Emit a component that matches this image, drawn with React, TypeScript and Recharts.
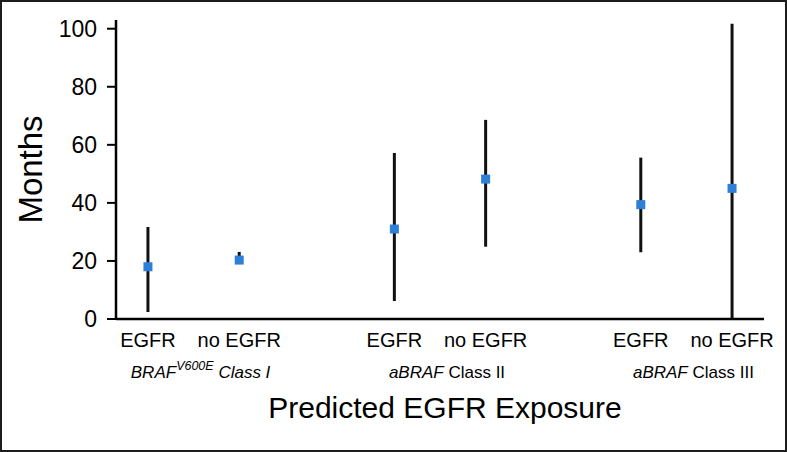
import {
  ScatterChart,
  Scatter,
  XAxis,
  YAxis,
  ZAxis,
  ErrorBar,
  Label
} from "recharts";

// x positions of the six estimates (pairs with a wider gap between groups)
const positions = [0, 1, 2.7, 3.7, 5.4, 6.4];
const exposure = ["EGFR", "no EGFR", "EGFR", "no EGFR", "EGFR", "no EGFR"];
const median = [18, 20.3, 31, 48.2, 39.4, 45];
const lower = [2.4, 19, 6.2, 24.9, 23, 0];
const upper = [31.7, 23.1, 57.2, 68.6, 55.6, 101.7];

const groupNames = ["class1", "class2", "class3"];
const yTicks = [0, 20, 40, 60, 80, 100];

const data = positions.map((x, i) => ({
  x,
  y: median[i],
  err: [median[i] - lower[i], upper[i] - median[i]]
}));

const groupCenters = groupNames.map((_, g) => (positions[g * 2] + positions[g * 2 + 1]) / 2);

// invisible anchors so the group axis has data of its own
const groupData = groupCenters.map((x, g) => ({ gx: x, y: 0, g }));

const BLUE = "#2e7fd8";

function ExposureTick(props: any){
  const { x, y, index } = props;
  return(
    <text x={x} y={y} dy="0.71em" textAnchor="middle" fontSize={20} fill="#000">
      {exposure[index]}
    </text>
  );
}

function GroupTick(props: any){
  const { x, y, index } = props;
  const name = groupNames[index];
  return(
    <text x={x + 7} y={y} dy="0.71em" textAnchor="middle" fontSize={17} fill="#000">
      {name === "class1" ? (
        <>
          <tspan fontStyle="italic">BRAF</tspan>
          <tspan fontStyle="italic" fontSize={12.5} dy={-8}>V600E</tspan>
          <tspan fontStyle="italic" dy={8}> Class I</tspan>
        </>
      ) : (
        <>
          <tspan fontStyle="italic">aBRAF</tspan>
          <tspan>{name === "class2" ? " Class II" : " Class III"}</tspan>
        </>
      )}
    </text>
  );
}

function SquareDot(props: any){
  const { cx, cy } = props;
  return <rect x={cx - 4.5} y={cy - 4.5} width={9} height={9} fill={BLUE} />;
}

function NoDot(){
  return <g />;
}

export default function App(){

  return(

    <div
      style={{
        position:"absolute",
        left:0,
        top:0,
        width:787,
        height:452,
        boxSizing:"border-box",
        border:"2px solid #1c1c1c",
        background:"#fff",
        fontFamily:"'Liberation Sans', Arial, sans-serif"
      }}
    >

      <ScatterChart width={783} height={448} margin={{ top:18, right:21, bottom:0, left:0 }}>

        <XAxis
          type="number"
          dataKey="x"
          domain={[-0.35, 6.75]}
          ticks={positions}
          interval={0}
          height={40}
          axisLine={{ stroke:"#000", strokeWidth:2.5 }}
          tickLine={false}
          tickSize={0}
          tickMargin={14}
          tick={<ExposureTick />}
        />

        <XAxis
          xAxisId="group"
          type="number"
          dataKey="gx"
          domain={[-0.35, 6.75]}
          allowDataOverflow
          ticks={groupCenters}
          interval={0}
          height={91}
          axisLine={false}
          tickLine={false}
          tickSize={0}
          tickMargin={7}
          tick={<GroupTick />}
        >
          <Label
            value="Predicted EGFR Exposure"
            position="insideTop"
            offset={38}
            dx={5}
            fontSize={30}
            fill="#000"
          />
        </XAxis>

        <YAxis
          type="number"
          dataKey="y"
          domain={[0, 103]}
          allowDataOverflow
          ticks={yTicks}
          width={114}
          axisLine={{ stroke:"#000", strokeWidth:2.5 }}
          tickLine={{ stroke:"#000", strokeWidth:2 }}
          tickSize={9}
          tickMargin={10}
          tick={{ fontSize:23, fill:"#000" }}
        >
          <Label
            value="Months"
            angle={-90}
            position="center"
            dx={-29}
            fontSize={33}
            fill="#000"
          />
        </YAxis>

        <ZAxis range={[81, 81]} />

        <Scatter
          data={groupData}
          xAxisId="group"
          dataKey="y"
          shape={<NoDot />}
          isAnimationActive={false}
        />

        <Scatter data={data} shape={<SquareDot />} isAnimationActive={false}>
          <ErrorBar
            dataKey="err"
            direction="y"
            width={0}
            stroke="#111"
            strokeWidth={3}
          />
        </Scatter>

      </ScatterChart>

    </div>

  );

}
